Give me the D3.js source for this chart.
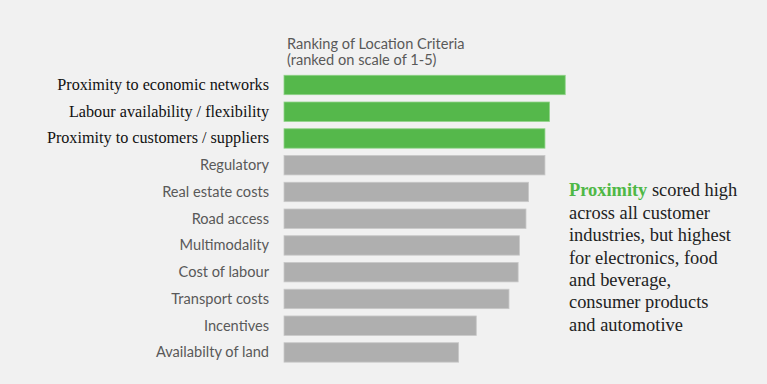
<!DOCTYPE html>
<html>
<head>
<meta charset="utf-8">
<script src="https://cdn.jsdelivr.net/npm/d3@7"></script>
<style>
  html, body { margin: 0; padding: 0; background: #f1f1f1; }
  svg { display: block; }
</style>
</head>
<body>
<div id="chart"></div>
<script>
// location criteria, top to bottom
var criteria = [
    "Proximity to economic networks",
    "Labour availability / flexibility",
    "Proximity to customers / suppliers",
    "Regulatory",
    "Real estate costs",
    "Road access",
    "Multimodality",
    "Cost of labour",
    "Transport costs",
    "Incentives",
    "Availabilty of land"
];
// score on a 1-5 scale
var scores = [4.30, 4.06, 3.99, 3.99, 3.74, 3.70, 3.60, 3.58, 3.44, 2.94, 2.67];
// the three criteria that are highlighted
var highlighted = [true, true, true, false, false, false, false, false, false, false, false];

var titleLines = ["Ranking of Location Criteria", "(ranked on scale of 1-5)"];
var noteLines = [
    ["Proximity", " scored high"],
    ["", "across all customer"],
    ["", "industries, but highest"],
    ["", "for electronics, food"],
    ["", "and beverage,"],
    ["", "consumer products"],
    ["", "and automotive"]
];

(function() {
    var width = 767,
        height = 384,
        green = "#55b84b",
        grey = "#afafaf";

    var rows = criteria.map(function(c, i) {
        return { name: c, score: scores[i], hot: highlighted[i] };
    });

    var svg = d3.select("#chart")
                .append("svg")
                .attr("width", width)
                .attr("height", height);

    svg.append("rect")
       .attr("width", width)
       .attr("height", height)
       .attr("fill", "#f1f1f1");

    var x = d3.scaleLinear()
              .domain([0, 5])
              .range([284, 611]);

    var y = d3.scaleBand()
              .domain(criteria)
              .range([71.6, 365.8])
              .paddingInner(0.274)
              .paddingOuter(0.137);

    // bars
    svg.selectAll(".bar")
       .data(rows)
       .enter()
       .append("rect")
       .attr("class", "bar")
       .attr("x", x(0))
       .attr("y", function(d) { return y(d.name); })
       .attr("width", function(d) { return x(d.score) - x(0); })
       .attr("height", y.bandwidth())
       .attr("fill", function(d) { return d.hot ? green : grey; })
       .attr("stroke", function(d) { return d.hot ? "#8fd388" : "#c8c8c8"; })
       .attr("stroke-width", 0.8);

    // category labels
    svg.selectAll(".label")
       .data(rows)
       .enter()
       .append("text")
       .attr("class", "label")
       .attr("x", 269)
       .attr("y", function(d) { return y(d.name) + y.bandwidth() / 2 + 5; })
       .attr("text-anchor", "end")
       .style("font-family", function(d) { return d.hot ? "'Liberation Serif', 'Times New Roman', serif" : "Lato, 'Open Sans', sans-serif"; })
       .style("font-size", function(d) { return d.hot ? "16.2px" : "14.6px"; })
       .style("fill", function(d) { return d.hot ? "#111" : "#595959"; })
       .text(function(d) { return d.name; });

    // title above the bars
    svg.selectAll(".title")
       .data(titleLines)
       .enter()
       .append("text")
       .attr("class", "title")
       .attr("x", 287)
       .attr("y", function(d, i) { return 48.5 + i * 16.5; })
       .style("font-family", "Lato, 'Open Sans', sans-serif")
       .style("font-size", "14.6px")
       .style("fill", "#595959")
       .text(function(d) { return d; });

    // note on the right
    var note = svg.append("text")
                  .attr("x", 569)
                  .attr("y", 196.3)
                  .style("font-family", "'Liberation Serif', 'Times New Roman', serif")
                  .style("font-size", "18.4px")
                  .style("fill", "#222");

    noteLines.forEach(function(line, i) {
        var t = note.append("tspan")
                    .attr("x", 569)
                    .attr("dy", i === 0 ? 0 : 22.4);
        if (line[0]) {
            t.append("tspan")
             .style("fill", "#4fb846")
             .style("font-weight", "bold")
             .text(line[0]);
        }
        t.append("tspan").text(line[1]);
    });
})();
</script>
</body>
</html>
